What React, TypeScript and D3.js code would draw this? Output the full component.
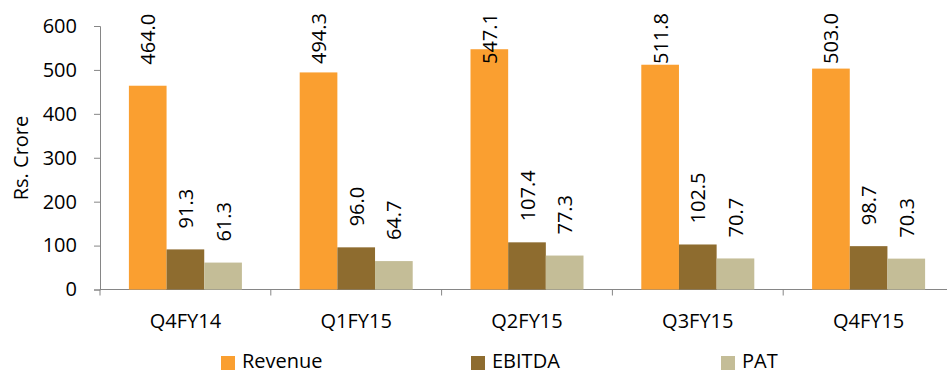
import { useEffect, useRef } from 'react';
import * as d3 from 'd3';

const quarters = ['Q4FY14', 'Q1FY15', 'Q2FY15', 'Q3FY15', 'Q4FY15'];
const seriesNames = ['Revenue', 'EBITDA', 'PAT'];
const revenue = [464.0, 494.3, 547.1, 511.8, 503.0];
const ebitda = [91.3, 96.0, 107.4, 102.5, 98.7];
const pat = [61.3, 64.7, 77.3, 70.7, 70.3];
const yTicks = [0, 100, 200, 300, 400, 500, 600];

const colors = ['#FA9F30', '#8E6C2F', '#C4BD97'];
const FONT = '"Open Sans", sans-serif';
const FS = '20px';

const App = () => {
  const ref = useRef<SVGSVGElement>(null);

  useEffect(() => {
    const svg = d3.select(ref.current);
    svg.selectAll('*').remove();

    const left = 100;
    const band = 170.8;
    const top = 26;
    const bottom = 289.5;

    const values = [revenue, ebitda, pat];

    const x = d3.scaleBand()
      .domain(quarters)
      .range([left, left + band * quarters.length])
      .paddingInner(0)
      .paddingOuter(0);

    const xs = d3.scaleBand()
      .domain(seriesNames)
      .range([0, x.bandwidth()])
      .paddingOuter(29 / 37.8)
      .paddingInner(0);

    const y = d3.scaleLinear().domain([0, 600]).range([bottom, top]);

    // y axis
    const yAxis = svg.append('g')
      .attr('transform', `translate(${left},0)`)
      .call(d3.axisLeft(y).tickValues(yTicks).tickSize(6).tickPadding(17));
    yAxis.select('.domain').attr('stroke', '#868686');
    yAxis.selectAll('line').attr('stroke', '#868686');
    yAxis.selectAll('text')
      .attr('fill', '#000')
      .style('font-family', FONT)
      .style('font-size', FS);

    // x axis
    const xAxis = svg.append('g')
      .attr('transform', `translate(0,${bottom})`);
    xAxis.append('line')
      .attr('x1', left).attr('x2', 947)
      .attr('stroke', '#868686');
    xAxis.selectAll('.tick')
      .data(quarters.map((q, i) => left + band * i))
      .enter()
      .append('line')
      .attr('x1', d => d).attr('x2', d => d)
      .attr('y1', 0).attr('y2', 6)
      .attr('stroke', '#868686');
    xAxis.selectAll('.lbl')
      .data(quarters)
      .enter()
      .append('text')
      .attr('x', d => x(d)! + x.bandwidth() / 2)
      .attr('y', 38)
      .attr('text-anchor', 'middle')
      .style('font-family', FONT)
      .style('font-size', FS)
      .text(d => d);

    // bars + labels
    seriesNames.forEach((s, si) => {
      const g = svg.append('g');
      g.selectAll('rect')
        .data(quarters)
        .enter()
        .append('rect')
        .attr('x', d => x(d)! + xs(s)!)
        .attr('y', (d, i) => y(values[si][i]))
        .attr('width', xs.bandwidth())
        .attr('height', (d, i) => bottom - y(values[si][i]))
        .attr('fill', colors[si]);

      g.selectAll('text')
        .data(quarters)
        .enter()
        .append('text')
        .style('font-family', FONT)
        .style('font-size', FS)
        .attr('dominant-baseline', 'central')
        .text((d, i) => values[si][i].toFixed(1))
        .each(function (d, i) {
          const el = this as SVGTextElement;
          const len = el.getComputedTextLength();
          const cx = x(d)! + xs(s)! + xs.bandwidth() / 2;
          const start = Math.max(y(values[si][i]) - 21, 13 + len);
          d3.select(el).attr('transform', `translate(${cx},${start}) rotate(-90)`);
        });
    });

    // y title
    svg.append('text')
      .attr('transform', 'translate(20.5,158) rotate(-90)')
      .attr('text-anchor', 'middle')
      .attr('dominant-baseline', 'central')
      .style('font-family', FONT)
      .style('font-size', FS)
      .text('Rs. Crore');

    // legend
    const legend = svg.append('g');
    seriesNames.forEach((s, i) => {
      const lx = 221 + i * 250;
      legend.append('rect')
        .attr('x', lx).attr('y', 356)
        .attr('width', 14).attr('height', 14)
        .attr('fill', colors[i]);
      legend.append('text')
        .attr('x', lx + 21).attr('y', 368)
        .style('font-family', FONT)
        .style('font-size', FS)
        .text(s);
    });
  }, []);

  return (
    <svg
      ref={ref}
      width={947}
      height={373}
      style={{ position: 'absolute', left: 0, top: 0, background: '#fff' }}
    />
  );
};

export default App;
